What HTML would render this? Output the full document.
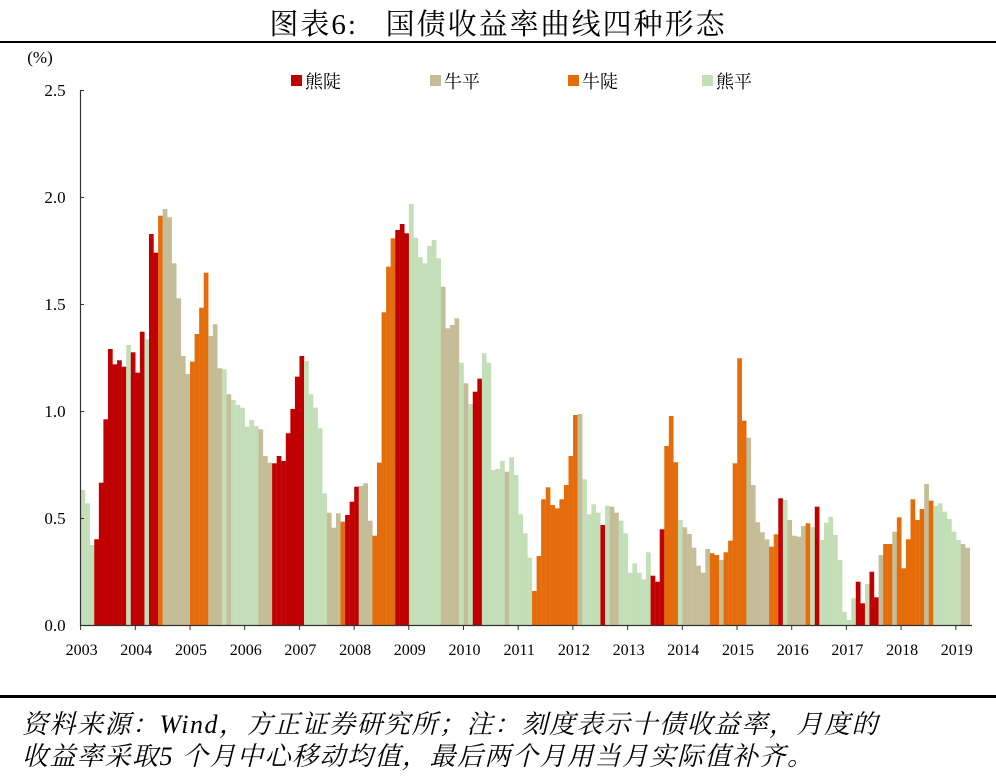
<!DOCTYPE html>
<html><head><meta charset="utf-8">
<style>
html,body{margin:0;padding:0;background:#fff;}
body{width:996px;height:781px;overflow:hidden;position:relative;font-family:"Liberation Serif","Noto Serif CJK SC",serif;}
.t{position:absolute;white-space:nowrap;}
</style></head><body>
<div class="t" style="left:0;width:996px;top:2px;text-align:center;font-size:29px;letter-spacing:2px;">图表6:&nbsp;&nbsp;&nbsp;国债收益率曲线四种形态</div>
<div style="position:absolute;left:0;top:41px;width:996px;height:2px;background:#000"></div>
<svg id="c" width="996" height="700" style="position:absolute;left:0;top:0" xmlns="http://www.w3.org/2000/svg"></svg>
<div style="position:absolute;left:0;top:695px;width:996px;height:3px;background:#000"></div>
<div class="t" style="left:22px;top:704px;font-size:26px;letter-spacing:1.5px;font-style:italic;">资料来源：Wind，方正证券研究所；注：刻度表示十债收益率，月度的</div>
<div class="t" style="left:22px;top:736px;font-size:26px;letter-spacing:1.5px;font-style:italic;">收益率采取5 个月中心移动均值，最后两个月用当月实际值补齐。</div>
<script>
var C={R:"#C00000",O:"#E46C0A",T:"#C4BD97",G:"#C3DFB8"};
var s1="G930 G970 G1095 R1078 R908 R718 R507 R553 R541 R560 G495 R517 R578 R455 G478 R162 R218 O107 T87 T112 T250 T355 T528 T582 O545 O462 O383 O278 T468 T433 T565 G568 T643 G660 G675 G683 G740 G720 G738 T748 T828 T848 R850 R828 R843 R760 R687 R590";
var s2="R528 G543 G643 G683 G745 G940 T998 T1043 T1000 O1025 R1005 R965 R920 T918 T910 T1022 O1067 O848 O397 O260 O175 R150 R132 R160 G72 G173 G232 G250 G198 G180 G235 T320 T445 T435 T415 G548 T610 G672 R635 R596 G520 G548 G870 G867 G843 T875 G832 G885";
var s3="G553 G610 G683 O783 O678 O508 O472 O525 O535 O508 O465 O378 O255 T252 G448 G553 G523 G548 R585 G527 T530 T548 G572 G610 G728 G700 G728 G748 G667 R737 R755 R598 O348 O258 O397 G570 T592 T612 T653 T707 T728 T657 O670 O675 T690 O667 O632 O400 O85 O272";
var s4="T323 T465 T577 T607 T628 O650 O613 R505 G510 T570 T617 T620 T588 O580 G592 R530 G630 G578 G560 G615 G690 G845 G870 G805 R755 R820 G762 R725 R802 T675 O642 O642 T605 O562 O715 O628 O508 O570 O537 T462 O512 G528 G520 G545 G567 G605 G630 T642 T653";
var bars=[];
[[s1,180],[s2,180],[s3,330],[s4,330]].forEach(function(p){p[0].split(" ").forEach(function(b){bars.push([b[0],p[1]+parseInt(b.slice(1))/3]);});});
var h="";
var x0=80.6,w=4.56,base=625;
bars.forEach(function(b,i){var x=x0+i*w;var y=b[1];h+='<rect x="'+x.toFixed(2)+'" y="'+y.toFixed(1)+'" width="'+(w+0.15).toFixed(2)+'" height="'+(base-y).toFixed(1)+'" fill="'+C[b[0]]+'"/>';});
h+='<line x1="80.5" y1="90" x2="80.5" y2="626" stroke="#333" stroke-width="1.2"/>';
h+='<line x1="80" y1="625.5" x2="972" y2="625.5" stroke="#333" stroke-width="1.2"/>';
var yl=["0.0","0.5","1.0","1.5","2.0","2.5"];
for(var k=0;k<6;k++){var y=625-k*107;h+='<line x1="80" y1="'+(y+0.5)+'" x2="84" y2="'+(y+0.5)+'" stroke="#333"/>';
h+='<text x="55" y="'+(y+6)+'" font-size="17" text-anchor="middle" font-family="Liberation Serif,serif">'+yl[k]+'</text>';}
for(var yr=0;yr<=16;yr++){var x=x0+yr*54.7;h+='<line x1="'+x+'" y1="625" x2="'+x+'" y2="630" stroke="#333"/>';
h+='<text x="'+(x+1)+'" y="655" font-size="16" text-anchor="middle" font-family="Liberation Serif,serif">'+(2003+yr)+'</text>';}
h+='<text x="40" y="63" font-size="17" text-anchor="middle" font-family="Liberation Serif,Noto Serif CJK SC,serif">(%)</text>';
var lg=[["R",291,"熊陡"],["T",430,"牛平"],["O",568,"牛陡"],["G",702,"熊平"]];
lg.forEach(function(l){h+='<rect x="'+l[1]+'" y="75" width="11" height="11" fill="'+C[l[0]]+'"/><text x="'+(l[1]+14)+'" y="88" font-size="18" font-family="Liberation Serif,Noto Serif CJK SC,serif">'+l[2]+'</text>';});
document.getElementById("c").innerHTML=h;
</script>
</body></html>
